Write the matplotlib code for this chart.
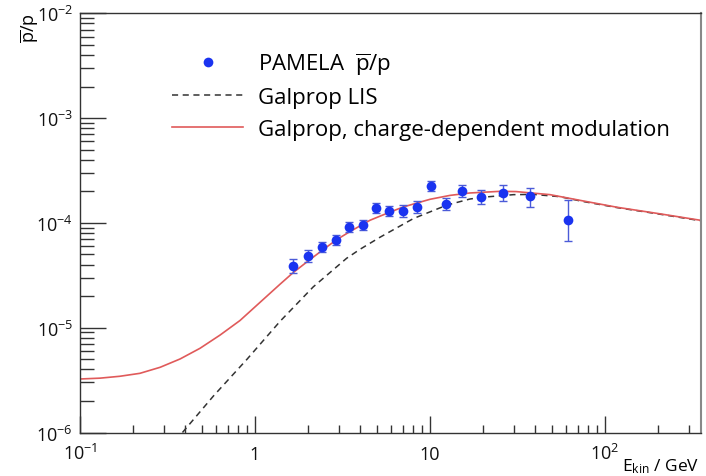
#PAMELA pbar/p ratio with Galprop curves (log-log)
import matplotlib
matplotlib.use("Agg")
import matplotlib.pyplot as plt
import numpy as np
from matplotlib.ticker import FixedLocator, FixedFormatter, LogLocator, NullFormatter, LogFormatterMathtext

plt.rcParams['font.family'] = ['Open Sans', 'DejaVu Sans']
plt.rcParams['mathtext.fontset'] = 'custom'
plt.rcParams['mathtext.rm'] = 'Open Sans'
plt.rcParams['mathtext.it'] = 'Open Sans:italic'

#PAMELA data points (kinetic energy in GeV, ratio, lower / upper end of error bar)
pamela_E = [1.64, 2.0, 2.41, 2.92, 3.46, 4.14, 4.92, 5.85, 7.04, 8.4,
            10.1, 12.3, 15.2, 19.6, 26.0, 37.3, 61.5]
pamela_ratio = [3.87e-5, 4.82e-5, 5.87e-5, 6.85e-5, 9.12e-5, 9.53e-5, 1.38e-4, 1.30e-4, 1.30e-4, 1.42e-4,
                2.23e-4, 1.52e-4, 2.03e-4, 1.78e-4, 1.94e-4, 1.80e-4, 1.06e-4]
pamela_lo = [3.32e-5, 4.22e-5, 5.26e-5, 6.14e-5, 8.17e-5, 8.54e-5, 1.24e-4, 1.16e-4, 1.14e-4, 1.24e-4,
             2.00e-4, 1.33e-4, 1.78e-4, 1.53e-4, 1.63e-4, 1.43e-4, 6.76e-5]
pamela_hi = [4.51e-5, 5.50e-5, 6.55e-5, 7.64e-5, 1.02e-4, 1.06e-4, 1.54e-4, 1.45e-4, 1.48e-4, 1.62e-4,
             2.49e-4, 1.73e-4, 2.32e-4, 2.08e-4, 2.31e-4, 2.17e-4, 1.64e-4]

#Galprop, charge-dependent modulation
mod_E = [0.1, 0.13, 0.169, 0.22, 0.287, 0.373, 0.485, 0.631, 0.82, 1.07, 1.39, 1.65, 2.0,
         2.5, 2.92, 3.46, 4.54, 5.85, 7.04, 10, 13, 16.9, 25, 31, 48.5, 75, 117, 200, 350]
mod_ratio = [3.24e-6, 3.3e-6, 3.44e-6, 3.67e-6, 4.19e-6, 5.03e-6, 6.36e-6, 8.5e-6, 1.17e-5, 1.75e-5,
             2.6e-5, 3.35e-5, 4.3e-5, 5.7e-5, 6.9e-5, 8.2e-5, 1.06e-4, 1.26e-4, 1.42e-4, 1.68e-4,
             1.83e-4, 1.93e-4, 2.0e-4, 1.99e-4, 1.86e-4, 1.62e-4, 1.41e-4, 1.23e-4, 1.06e-4]

#Galprop LIS
lis_E = [0.385, 0.58, 0.90, 1.39, 2.15, 3.34, 3.98, 5.18, 8.03, 12.5, 16.9, 20.2, 30, 38.9,
         55, 75, 117, 200, 350]
lis_ratio = [1.0e-6, 2.24e-6, 5.0e-6, 1.15e-5, 2.45e-5, 4.6e-5, 5.6e-5, 7.3e-5, 1.10e-4, 1.48e-4,
             1.69e-4, 1.76e-4, 1.86e-4, 1.87e-4, 1.78e-4, 1.60e-4, 1.40e-4, 1.22e-4, 1.05e-4]

fig = plt.figure(figsize=(7.06, 4.77), dpi=100)
ax = fig.add_axes([80/706, 1-433.5/477, 620.7/706, (433.5-14.3)/477])

ax.plot(lis_E, lis_ratio, color='#333333', lw=1.1, dashes=(4, 3), label='Galprop LIS')
ax.plot(mod_E, mod_ratio, color='#e05a5a', lw=1.2, label='Galprop, charge-dependent modulation')

yerr = [np.array(pamela_ratio) - np.array(pamela_lo), np.array(pamela_hi) - np.array(pamela_ratio)]
ax.errorbar(pamela_E, pamela_ratio, yerr=yerr, fmt='none', ecolor='#4b5bd8', elinewidth=1,
            capsize=3, capthick=1)
ax.plot(pamela_E, pamela_ratio, 'o', color='#1a33f0', ms=7, mew=0,
        label=r'PAMELA  $\overline{\mathrm{p}}$/p')

ax.set_xscale('log')
ax.set_yscale('log')
ax.set_xlim(0.1, 352)
ax.set_ylim(1e-6, 1e-2)

ax.xaxis.set_major_locator(FixedLocator([0.1, 1, 10, 100]))
ax.xaxis.set_major_formatter(FixedFormatter([r'$10^{-1}$', '1', '10', r'$10^{2}$']))
ax.xaxis.set_minor_locator(LogLocator(base=10, subs=np.arange(2, 10), numticks=20))
ax.xaxis.set_minor_formatter(NullFormatter())
ax.yaxis.set_major_locator(LogLocator(base=10, numticks=10))
ax.yaxis.set_major_formatter(LogFormatterMathtext())
ax.yaxis.set_minor_locator(LogLocator(base=10, subs=np.arange(2, 10), numticks=20))
ax.yaxis.set_minor_formatter(NullFormatter())

ax.tick_params(which='both', direction='in', top=False, right=False, color='#333333', width=1,
               labelsize=13, labelcolor='#111111')
ax.tick_params(axis='x', which='major', length=12, pad=19)
ax.tick_params(axis='x', which='minor', length=6)
ax.tick_params(axis='y', which='major', length=19, pad=5)
ax.tick_params(axis='y', which='minor', length=10)
for lab in ax.get_xticklabels():
    lab.set_verticalalignment('baseline')

for s in ax.spines.values():
    s.set_color('#333333')
    s.set_linewidth(1)
ax.spines['right'].set_color('#888888')
ax.spines['right'].set_linewidth(1.5)

handles, labels = ax.get_legend_handles_labels()
order = [2, 0, 1]
ax.legend([handles[i] for i in order], [labels[i] for i in order],
          loc='upper left', bbox_to_anchor=(172/706, 1-51/477), bbox_transform=fig.transFigure,
          frameon=False, fontsize=16, handlelength=3.2, handletextpad=0.68, labelspacing=0.48,
          borderpad=0, borderaxespad=0, numpoints=1)

fig.text(30/706, 1-13/477, r'$\overline{\mathrm{p}}$/p', rotation=90, ha='center', va='top', fontsize=13)
fig.text(699/706, 1-471/477, r'$\mathrm{E_{kin}}$ / GeV', ha='right', va='baseline', fontsize=12.5)

fig.savefig('out.png', dpi=100)
